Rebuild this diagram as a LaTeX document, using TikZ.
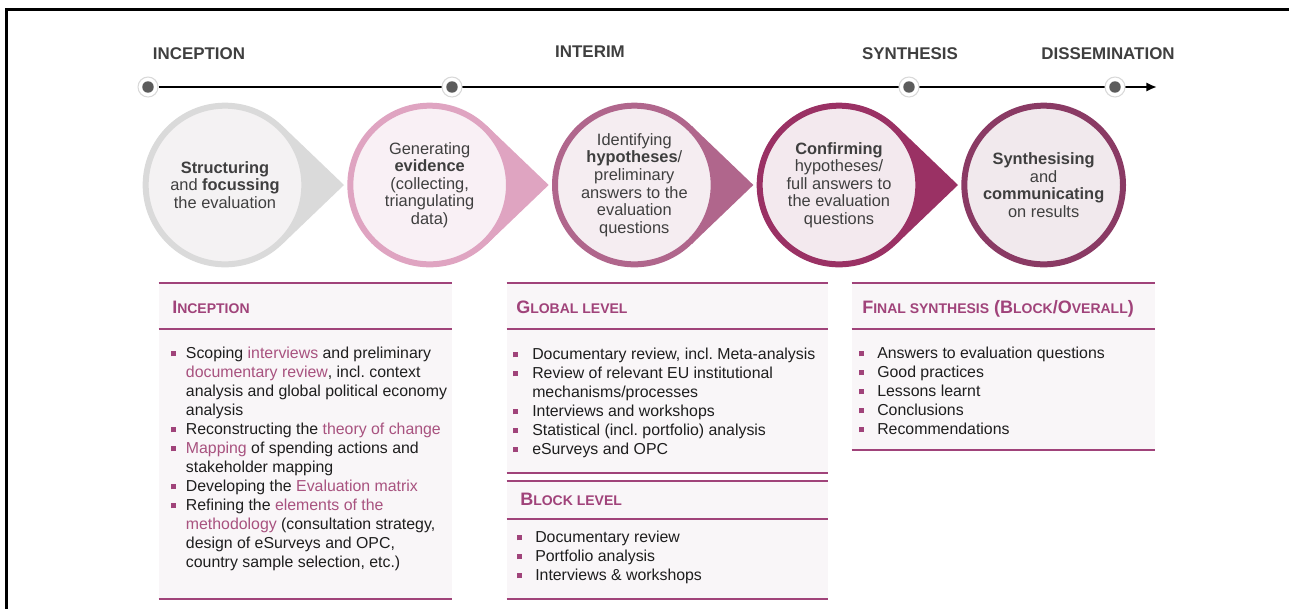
\documentclass[tikz,border=0pt]{standalone}
\usepackage{fontspec}
\setmainfont{Liberation Sans}
\usetikzlibrary{arrows.meta, positioning, backgrounds}

\definecolor{inkgray}{HTML}{3F3F3F}
\definecolor{bodyink}{HTML}{1E1E1E}
\definecolor{rose}{HTML}{A0437A}
\definecolor{hlrose}{HTML}{A8527F}
\definecolor{panelbg}{HTML}{F9F6F8}
\definecolor{dotgray}{HTML}{5C5C5C}
\definecolor{ringA}{HTML}{DADADA}\definecolor{fillA}{HTML}{F4F2F3}
\definecolor{ringB}{HTML}{DFA4C1}\definecolor{fillB}{HTML}{F9F0F5}
\definecolor{ringC}{HTML}{B0668C}\definecolor{fillC}{HTML}{F5EDF1}
\definecolor{ringD}{HTML}{9A3164}\definecolor{fillD}{HTML}{F3E9EE}
\definecolor{ringE}{HTML}{8A3A64}\definecolor{fillE}{HTML}{F1E9ED}

\newcommand{\hl}[1]{\textcolor{hlrose}{#1}}
\newcommand{\sml}[1]{{\fontsize{10.5}{12}\selectfont #1}}
\newcommand{\itm}[1]{\textcolor{rose}{\rule[1.3pt]{3.8pt}{3.8pt}} & #1\\}
\newcommand{\bullist}[3]{\begin{tabular}[t]{@{}p{#1}@{}p{#2}@{}}#3\end{tabular}}

\tikzset{
x=0.75pt, y=-0.75pt, % one unit is one pixel of the layout
node distance=30pt, % gap between two stage circles
stage/.style 2 args={circle, draw=#1, fill=#2, line width=4.5pt, minimum size=119pt, inner sep=0pt, align=center, text=inkgray, font=\fontsize{12.3}{13.2}\selectfont}, % the round steps
tick/.style={circle, fill=white, draw=gray!30, line width=0.8pt, minimum size=15pt, inner sep=0pt, path picture={\fill[dotgray] (path picture bounding box.center) circle (4.3pt);}}, % milestones on the time line
phase/.style={anchor=base, inner sep=0pt, text=inkgray, font=\bfseries\fontsize{12.7}{14}\selectfont}, % milestone names
panel/.style={fill=panelbg, inner sep=0pt}, % background of a method box
rule/.style={draw=rose, line width=1.5pt}, % the lines of a method box
head/.style={anchor=base west, inner sep=0pt, text=rose, font=\bfseries\fontsize{13.5}{15}\selectfont}, % box titles
list/.style={anchor=base west, inner sep=0pt, text=bodyink, font=\frenchspacing\fontsize{11.9}{14.25}\selectfont}, % bullet lists
}

\begin{document}
\begin{tikzpicture}
  \useasboundingbox (0,0) rectangle (1289,608);
  \draw[line width=2.25pt] (6,620) -- (6,9) -- (1300,9);

  % time line
  \node[tick] (t1) at (148,87) {};
  \node[tick] (t2) at (452,87) {};
  \node[tick] (t3) at (909,87) {};
  \node[tick] (t4) at (1115,87) {};
  \coordinate (tend) at (1157,87);
  \node[phase] (lInc) at (199,59.5) {INCEPTION};
  \node[phase] (lInt) at (590,57.5) {INTERIM};
  \node[phase] (lSyn) at (910,59.5) {SYNTHESIS};
  \node[phase] (lDis) at (1108,59.5) {DISSEMINATION};

  % steps
  \node[stage={ringA}{fillA}] (c1) at (225,185) {{\bfseries Structuring}\\and {\bfseries focussing}\\the evaluation};
  \node[stage={ringB}{fillB}, right=of c1] (c2) {Generating\\{\bfseries evidence}\\(collecting,\\triangulating\\data)};
  \node[stage={ringC}{fillC}, right=of c2] (c3) {Identifying\\{\bfseries hypotheses}/\\preliminary\\answers to the\\evaluation\\questions};
  \node[stage={ringD}{fillD}, right=of c3] (c4) {{\bfseries Confirming}\\hypotheses/\\full answers to\\the evaluation\\questions};
  \node[stage={ringE}{fillE}, right=of c4] (c5) {{\bfseries Synthesising}\\and\\{\bfseries communicating}\\on results};

  \begin{scope}[on background layer]
    \draw[line width=2pt, -{Latex[length=8pt, width=7pt]}] (t1) -- (tend);
    \foreach \c/\r in {c1/ringA, c2/ringB, c3/ringC, c4/ringD}
      \fill[\r] (\c.46) -- ([xshift=27.5pt]\c.east) -- (\c.-46) -- cycle;
  \end{scope}

  % method boxes
  \node[panel, minimum width=219.75pt, minimum height=237pt] (pinc) at (305.5,441) {};
  \node[panel, minimum width=240.75pt, minimum height=142.5pt] (pglob) at (667.5,378) {};
  \node[panel, minimum width=240.75pt, minimum height=88.5pt] (pblk) at (667.5,540) {};
  \node[panel, minimum width=227.25pt, minimum height=125.25pt] (pfin) at (1003.5,366.5) {};
  \foreach \p/\h in {pinc/34.5pt, pglob/34.5pt, pblk/28.5pt, pfin/34.5pt} {
    \draw[rule] (\p.north west) -- (\p.north east);
    \draw[rule] ([yshift=-\h]\p.north west) -- ([yshift=-\h]\p.north east);
    \draw[rule] (\p.south west) -- (\p.south east);
  }

  \node[head] (hinc) at (172,313) {I\sml{NCEPTION}};
  \node[head] (hglob) at (516,313) {G\sml{LOBAL LEVEL}};
  \node[head] (hblk) at (520,505) {B\sml{LOCK LEVEL}};
  \node[head] (hfin) at (862,313) {F\sml{INAL SYNTHESIS} (B\sml{LOCK}/O\sml{VERALL})};

  \node[list] (linc) at (171,358) {\bullist{11pt}{215pt}{%
    \itm{Scoping \hl{interviews} and preliminary\newline \hl{documentary review}, incl. context\newline analysis and global political economy\newline analysis}
    \itm{Reconstructing the \hl{theory of change}}
    \itm{\hl{Mapping} of spending actions and\newline stakeholder mapping}
    \itm{Developing the \hl{Evaluation matrix}}
    \itm{Refining the \hl{elements of the}\newline \hl{methodology} (consultation strategy,\newline design of eSurveys and OPC,\newline country sample selection, etc.)}}};
  \node[list] (lglob) at (513,359) {\bullist{14.25pt}{235pt}{%
    \itm{Documentary review, incl. Meta-analysis}
    \itm{Review of relevant EU institutional\newline mechanisms/processes}
    \itm{Interviews and workshops}
    \itm{Statistical (incl. portfolio) analysis}
    \itm{eSurveys and OPC}}};
  \node[list] (lblk) at (517,542) {\bullist{13.5pt}{200pt}{%
    \itm{Documentary review}
    \itm{Portfolio analysis}
    \itm{Interviews \& workshops}}};
  \node[list] (lfin) at (859,358) {\bullist{13.5pt}{200pt}{%
    \itm{Answers to evaluation questions}
    \itm{Good practices}
    \itm{Lessons learnt}
    \itm{Conclusions}
    \itm{Recommendations}}};
\end{tikzpicture}
\end{document}
